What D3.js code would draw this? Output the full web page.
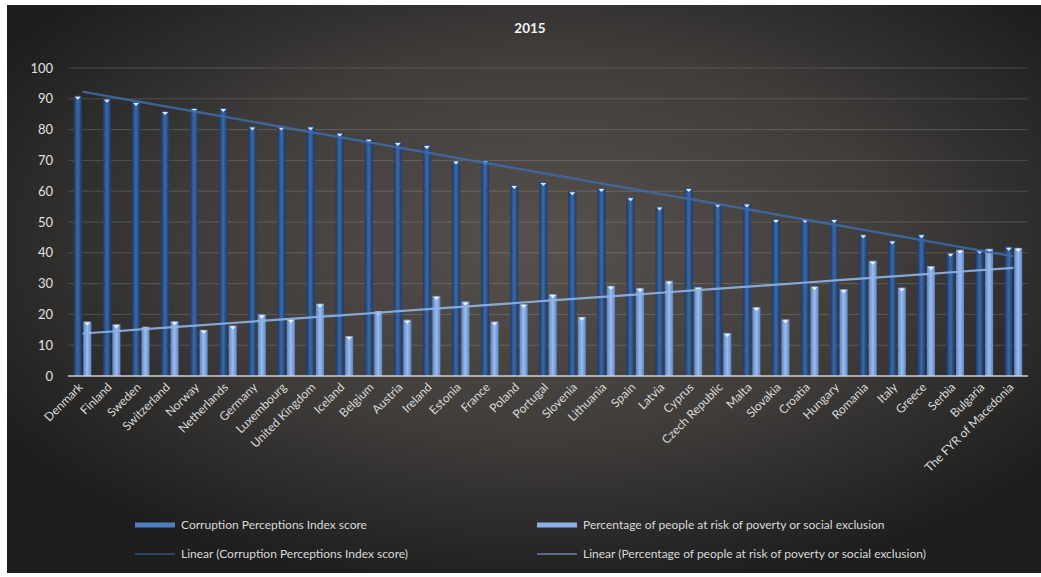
<!DOCTYPE html>
<html>
<head>
<meta charset="utf-8">
<script src="https://cdn.jsdelivr.net/npm/d3@7"></script>
<style>
  body { margin: 0; background: #fff; }
  svg { display: block; font-family: Lato, "Open Sans", sans-serif; }
</style>
</head>
<body>
<svg width="1041" height="577"></svg>
<script>
// data
var countries = ["Denmark", "Finland", "Sweden", "Switzerland", "Norway", "Netherlands", "Germany",
  "Luxembourg", "United Kingdom", "Iceland", "Belgium", "Austria", "Ireland", "Estonia", "France",
  "Poland", "Portugal", "Slovenia", "Lithuania", "Spain", "Latvia", "Cyprus", "Czech Republic",
  "Malta", "Slovakia", "Croatia", "Hungary", "Romania", "Italy", "Greece", "Serbia", "Bulgaria",
  "The FYR of Macedonia"];
var cpi = [91, 90, 89, 86, 87, 87, 81, 81, 81, 79, 77, 76, 75, 70, 70, 62, 63, 60, 61, 58, 55, 61,
  56, 56, 51, 51, 51, 46, 44, 46, 40, 41, 42];
var poverty = [17.7, 16.8, 16.0, 17.8, 15.0, 16.4, 20.0, 18.5, 23.5, 13.0, 21.1, 18.3, 26.0, 24.2,
  17.7, 23.4, 26.6, 19.2, 29.3, 28.6, 30.9, 28.9, 14.0, 22.4, 18.4, 29.1, 28.2, 37.4, 28.7, 35.7,
  41.0, 41.3, 41.6];
var yTicks = [0, 10, 20, 30, 40, 50, 60, 70, 80, 90, 100];
var seriesNames = ["Corruption Perceptions Index score",
  "Percentage of people at risk of poverty or social exclusion"];

var svg = d3.select("svg");
var defs = svg.append("defs");

// background gradient
var bg = defs.append("radialGradient").attr("id", "bg")
  .attr("cx", "52%").attr("cy", "42%").attr("r", "62%");
bg.append("stop").attr("offset", "0%").attr("stop-color", "#57514d");
bg.append("stop").attr("offset", "55%").attr("stop-color", "#3f3c3a");
bg.append("stop").attr("offset", "100%").attr("stop-color", "#1e1e1e");

// bar gradients (horizontal shading)
function barGrad(id, edge, mid) {
  var g = defs.append("linearGradient").attr("id", id)
    .attr("x1", "0%").attr("x2", "100%").attr("y1", "0%").attr("y2", "0%");
  g.append("stop").attr("offset", "0%").attr("stop-color", edge);
  g.append("stop").attr("offset", "50%").attr("stop-color", mid);
  g.append("stop").attr("offset", "100%").attr("stop-color", edge);
}
barGrad("gDark", "#1c3a66", "#3c6aa8");
barGrad("gLight", "#5b86c8", "#9bbcec");

svg.append("rect")
  .attr("x", 7).attr("y", 5).attr("width", 1034).attr("height", 568)
  .attr("fill", "url(#bg)");

var margin = {left: 68, right: 1028, top: 68, bottom: 376};

var x0 = d3.scaleBand()
  .domain(countries)
  .range([margin.left, margin.right])
  .paddingInner(0.3)
  .paddingOuter(0.15);

var x1 = d3.scaleBand()
  .domain([0, 1])
  .range([0, x0.bandwidth()])
  .padding(0.15);

var y = d3.scaleLinear()
  .domain([0, 100])
  .range([margin.bottom, margin.top]);

// title
svg.append("text")
  .attr("x", 530).attr("y", 33)
  .attr("text-anchor", "middle")
  .attr("fill", "#f2f2f2")
  .style("font-size", "13.5px")
  .style("font-weight", "bold")
  .text("2015");

// gridlines
svg.append("g").selectAll("line")
  .data(yTicks.filter(function(d) { return d > 0; }))
  .enter().append("line")
  .attr("x1", margin.left).attr("x2", margin.right)
  .attr("y1", function(d) { return y(d); })
  .attr("y2", function(d) { return y(d); })
  .attr("stroke", "rgba(255,255,255,0.16)")
  .attr("stroke-width", 1);

// y axis labels
var yAxis = svg.append("g")
  .attr("transform", "translate(" + (margin.left - 15) + ",0)")
  .call(d3.axisLeft(y).tickValues(yTicks).tickSize(0).tickPadding(0));
yAxis.select(".domain").remove();
yAxis.selectAll("text")
  .attr("fill", "#e0e0e0")
  .style("font-size", "13px")
  .style("font-family", "Lato, sans-serif");

// bars
var groups = svg.append("g").selectAll("g")
  .data(countries)
  .enter().append("g")
  .attr("transform", function(d) { return "translate(" + x0(d) + ",0)"; });

groups.append("rect")
  .attr("x", x1(0))
  .attr("width", x1.bandwidth())
  .attr("y", function(d, i) { return y(cpi[i]); })
  .attr("height", function(d, i) { return y(0) - y(cpi[i]); })
  .attr("fill", "url(#gDark)");

groups.append("rect")
  .attr("x", x1(1))
  .attr("width", x1.bandwidth())
  .attr("y", function(d, i) { return y(poverty[i]); })
  .attr("height", function(d, i) { return y(0) - y(poverty[i]); })
  .attr("fill", "url(#gLight)");

// small light caps on top of bars
groups.append("path")
  .attr("d", function(d, i) {
    var cx = x1(0) + x1.bandwidth() / 2, cy = y(cpi[i]) + 1;
    return "M" + (cx - 3) + "," + cy + "L" + (cx + 3) + "," + cy + "L" + cx + "," + (cy + 3) + "Z";
  })
  .attr("fill", "#dfe8f5");
groups.append("path")
  .attr("d", function(d, i) {
    var cx = x1(1) + x1.bandwidth() / 2, cy = y(poverty[i]) + 1;
    return "M" + (cx - 3) + "," + cy + "L" + (cx + 3) + "," + cy + "L" + cx + "," + (cy + 3) + "Z";
  })
  .attr("fill", "#eef3fb");

// axis line
svg.append("line")
  .attr("x1", margin.left).attr("x2", margin.right)
  .attr("y1", y(0)).attr("y2", y(0))
  .attr("stroke", "#d0d0d0").attr("stroke-width", 1.5);

// linear trend lines (least squares over category index)
function trend(vals) {
  var n = vals.length, sx = 0, sy = 0, sxy = 0, sxx = 0;
  vals.forEach(function(v, i) { var xi = i + 1; sx += xi; sy += v; sxy += xi * v; sxx += xi * xi; });
  var b = (n * sxy - sx * sy) / (n * sxx - sx * sx);
  var a = (sy - b * sx) / n;
  return vals.map(function(v, i) { return a + b * (i + 1); });
}
var line = d3.line()
  .x(function(d, i) { return x0(countries[i]) + x0.bandwidth() / 2; })
  .y(function(d) { return y(d); });

svg.append("path")
  .datum(trend(cpi))
  .attr("d", line)
  .attr("fill", "none")
  .attr("stroke", "#3d6cab")
  .attr("stroke-width", 2.4)
  .attr("opacity", 0.85);

svg.append("path")
  .datum(trend(poverty))
  .attr("d", line)
  .attr("fill", "none")
  .attr("stroke", "#8fb4e6")
  .attr("stroke-width", 2.2)
  .attr("opacity", 0.9);

// x labels
svg.append("g").selectAll("text")
  .data(countries)
  .enter().append("text")
  .attr("transform", function(d) {
    return "translate(" + (x0(d) + x0.bandwidth() / 2 - 2) + "," + (y(0) + 9) + ") rotate(-45)";
  })
  .attr("text-anchor", "end")
  .attr("dy", "0.35em")
  .attr("fill", "#d9d9d9")
  .style("font-size", "12px")
  .text(function(d) { return d; });

// legend
var legend = [
  {x: 135, y: 525, w: 40, label: seriesNames[0], stroke: "#4f7fbf", width: 5},
  {x: 537, y: 525, w: 40, label: seriesNames[1], stroke: "#8ab0e6", width: 5},
  {x: 135, y: 554, w: 40, label: "Linear (" + seriesNames[0] + ")", stroke: "#3d6cab", width: 1},
  {x: 537, y: 554, w: 40, label: "Linear (" + seriesNames[1] + ")", stroke: "#8fb4e6", width: 1}
];
var lg = svg.append("g").selectAll("g").data(legend).enter().append("g");
lg.append("line")
  .attr("x1", function(d) { return d.x; })
  .attr("x2", function(d) { return d.x + d.w; })
  .attr("y1", function(d) { return d.y; })
  .attr("y2", function(d) { return d.y; })
  .attr("stroke", function(d) { return d.stroke; })
  .attr("stroke-width", function(d) { return d.width; });
lg.append("text")
  .attr("x", function(d) { return d.x + d.w + 6; })
  .attr("y", function(d) { return d.y; })
  .attr("dy", "0.35em")
  .attr("fill", "#d9d9d9")
  .style("font-size", "12px")
  .text(function(d) { return d.label; });
</script>
</body>
</html>
